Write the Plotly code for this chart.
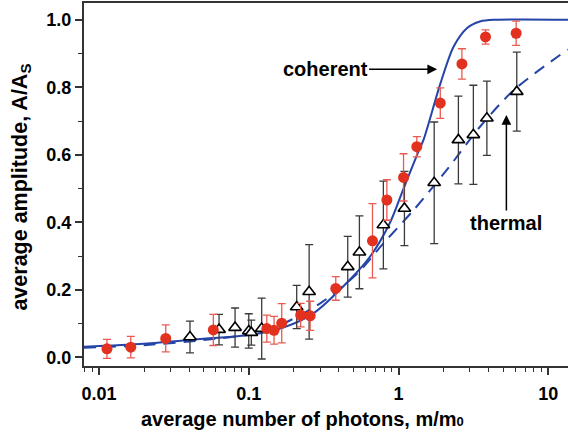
import plotly.graph_objects as go
import math

# Coherent (red circles)
coh_x = [0.0113, 0.0163, 0.0279, 0.058, 0.132, 0.1475, 0.166, 0.222, 0.257, 0.381, 0.67, 0.836, 1.08, 1.325, 1.90, 2.65, 3.81, 6.1]
coh_y = [0.025, 0.030, 0.056, 0.081, 0.085, 0.080, 0.101, 0.125, 0.123, 0.204, 0.345, 0.466, 0.533, 0.624, 0.753, 0.869, 0.949, 0.960]
coh_err = [0.028, 0.032, 0.040, 0.046, 0.040, 0.041, 0.058, 0.035, 0.043, 0.035, 0.110, 0.060, 0.070, 0.030, 0.045, 0.045, 0.021, 0.036]

# Thermal (open triangles)
th_x = [0.0405, 0.0633, 0.081, 0.100, 0.104, 0.122, 0.209, 0.253, 0.458, 0.548, 0.792, 1.095, 1.73, 2.51, 3.16, 3.89, 6.16]
th_y = [0.060, 0.082, 0.088, 0.078, 0.073, 0.085, 0.149, 0.194, 0.268, 0.311, 0.392, 0.441, 0.517, 0.644, 0.659, 0.708, 0.787]
th_err = [0.047, 0.045, 0.058, 0.051, 0.037, 0.090, 0.064, 0.140, 0.090, 0.108, 0.130, 0.110, 0.180, 0.130, 0.147, 0.110, 0.117]

# Model curves
cohc_x = [0.0079, 0.02, 0.05, 0.1, 0.17, 0.27, 0.45, 0.65, 0.88, 1.08, 1.33, 1.47, 1.9, 2.33, 2.86, 3.5, 4.5, 14]
cohc_y = [0.031, 0.040, 0.055, 0.066, 0.088, 0.13, 0.22, 0.30, 0.40, 0.50, 0.60, 0.645, 0.81, 0.92, 0.975, 0.995, 1.0, 1.0]
thc_x = [0.0079, 0.02, 0.05, 0.1, 0.17, 0.31, 0.53, 0.79, 1.26, 2.1, 3.5, 5.9, 13.5]
thc_y = [0.028, 0.036, 0.051, 0.068, 0.100, 0.164, 0.248, 0.337, 0.436, 0.555, 0.683, 0.792, 0.912]

x_ticks = [0.01, 0.1, 1, 10]
x_ticklabels = ["0.01", "0.1", "1", "10"]
y_ticks = [0.0, 0.2, 0.4, 0.6, 0.8, 1.0]
y_ticklabels = ["0.0", "0.2", "0.4", "0.6", "0.8", "1.0"]

BLUE = "#2544a8"
RED = "#e2321f"
FONT = "Liberation Sans, Arial, sans-serif"

fig = go.Figure()
fig.add_trace(go.Scatter(x=cohc_x, y=cohc_y, mode="lines", line=dict(color=BLUE, width=2, shape="spline", smoothing=0.8), hoverinfo="skip"))
fig.add_trace(go.Scatter(x=thc_x, y=thc_y, mode="lines", line=dict(color=BLUE, width=2, dash="12px,8px", shape="spline", smoothing=0.8), hoverinfo="skip"))
fig.add_trace(go.Scatter(x=th_x, y=th_y, mode="markers",
                         marker=dict(symbol="triangle-up", size=11, color="white", line=dict(color="black", width=1.6)),
                         error_y=dict(type="data", array=th_err, color="#3a3a3a", thickness=1.3, width=4)))
fig.add_trace(go.Scatter(x=coh_x, y=coh_y, mode="markers",
                         marker=dict(symbol="circle", size=11, color=RED),
                         error_y=dict(type="data", array=coh_err, color="#ea5a50", thickness=1.3, width=4)))

fig.update_layout(
    width=568, height=434,
    margin=dict(l=84, r=0, t=3, b=68),
    paper_bgcolor="white", plot_bgcolor="white",
    showlegend=False,
    font=dict(family=FONT, color="black"),
)
fig.update_xaxes(
    type="log", range=[-2.1002, 1.1316],
    tickvals=x_ticks, ticktext=x_ticklabels,
    tickfont=dict(size=18, family=FONT, weight="bold"),
    ticks="outside", ticklen=7, tickwidth=1.5, tickcolor="#333", ticklabelstandoff=3,
    minor=dict(ticks="outside", ticklen=4, tickwidth=1.2, tickcolor="#333", dtick="D1", showgrid=False),
    showline=True, linecolor="#333", linewidth=2, mirror=True,
    showgrid=False, zeroline=False,
)
fig.update_yaxes(
    range=[-0.0258, 1.0496],
    tickvals=y_ticks, ticktext=y_ticklabels,
    tickfont=dict(size=18, family=FONT, weight="bold"),
    ticks="outside", ticklen=7, tickwidth=1.5, tickcolor="#333",
    minor=dict(ticks="outside", ticklen=4, tickwidth=1.2, tickcolor="#333", dtick=0.1, showgrid=False),
    showline=True, linecolor="#333", linewidth=2, mirror=False,
    showgrid=False, zeroline=False,
)

# axis titles (placed as annotations to match the reference offsets)
fig.add_annotation(xref="paper", yref="paper", x=0.4514, y=-0.147,
                   text="<b>average number of photons, m/m<span style='font-size:13px'>0</span></b>",
                   showarrow=False, xanchor="center", yanchor="middle",
                   font=dict(size=20, family=FONT, color="black"))
fig.add_annotation(xref="paper", yref="paper", x=-0.130, y=0.4917, textangle=-90,
                   text="<b>average amplitude, A/A<sub>S</sub></b>",
                   showarrow=False, xanchor="center", yanchor="middle",
                   font=dict(size=21.5, family=FONT, color="black"))

# labels with arrows
fig.add_annotation(x=math.log10(1.81), y=0.853, ax=-112, ay=0, text="<b>coherent</b>", showarrow=True,
                   arrowhead=2, arrowsize=1.3, arrowwidth=1.5, arrowcolor="black",
                   font=dict(size=20, family=FONT, color="black"))
fig.add_annotation(x=math.log10(5.25), y=0.718, ax=0, ay=108, text="<b>thermal</b>", showarrow=True,
                   arrowhead=2, arrowsize=1.3, arrowwidth=1.5, arrowcolor="black",
                   font=dict(size=20, family=FONT, color="black"))

fig.write_html("out.html")
